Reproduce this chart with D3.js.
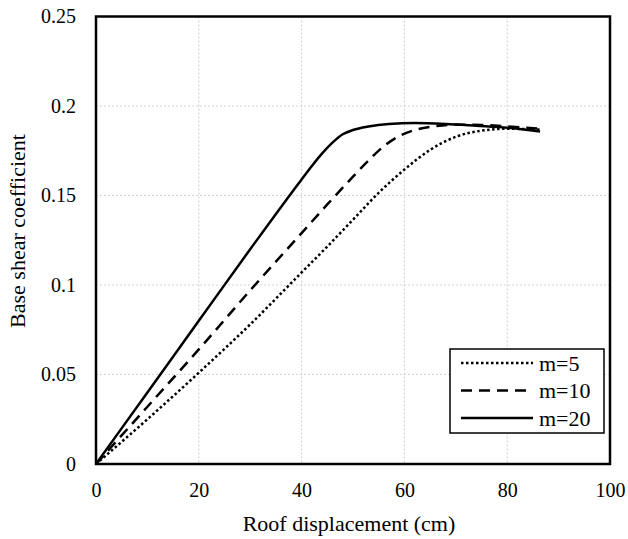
<!DOCTYPE html>
<html>
<head>
<meta charset="utf-8">
<script src="https://cdn.jsdelivr.net/npm/d3@7"></script>
<style>
  body { margin: 0; background: #fff; }
  text { font-family: "Liberation Serif", "Times New Roman", serif; fill: #000; }
</style>
</head>
<body>
<svg id="chart" width="628" height="539"></svg>
<script>
// roof displacement (cm) / base shear coefficient
var xM5  = [0, 10, 20, 30, 40, 45, 50, 55, 60, 65, 70, 75, 80, 86.4];
var yM5  = [0, 0.025, 0.051, 0.078, 0.107, 0.1215, 0.1365, 0.1515, 0.1645, 0.1755, 0.1828, 0.1862, 0.1873, 0.1868];
var xM10 = [0, 10, 20, 30, 40, 45, 50, 53, 56, 59, 62, 66, 70, 75, 80, 86.4];
var yM10 = [0, 0.032, 0.064, 0.097, 0.129, 0.145, 0.1605, 0.1695, 0.1775, 0.1832, 0.1866, 0.1887, 0.1896, 0.1894, 0.1886, 0.1873];
var xM20 = [0, 10, 20, 30, 40, 42, 44, 46, 48, 50, 53, 57, 62, 68, 74, 80, 86.4];
var yM20 = [0, 0.040, 0.080, 0.120, 0.159, 0.1665, 0.1735, 0.1795, 0.1842, 0.1866, 0.1886, 0.1900, 0.1905, 0.1900, 0.1890, 0.1879, 0.1858];

var seriesNames = ["m=5", "m=10", "m=20"];
var xTicks = [0, 20, 40, 60, 80, 100];
var yTicks = [0, 0.05, 0.1, 0.15, 0.2, 0.25];
var yTickLabels = ["0", "0.05", "0.1", "0.15", "0.2", "0.25"];

var svg = d3.select("#chart");
var plotL = 96, plotR = 610, plotT = 16.5, plotB = 464;

var x = d3.scaleLinear().domain([0, 100]).range([plotL, plotR]);
var y = d3.scaleLinear().domain([0, 0.25]).range([plotB, plotT]);

// grid
var grid = svg.append("g").attr("class", "grid");
grid.selectAll("line.v")
    .data(xTicks.slice(1, -1))
    .enter().append("line")
    .attr("x1", function(d) { return x(d); })
    .attr("x2", function(d) { return x(d); })
    .attr("y1", plotT).attr("y2", plotB)
    .attr("stroke", "#d4d4d4").attr("stroke-width", 1.2)
    .attr("stroke-dasharray", "2,2");
grid.selectAll("line.h")
    .data(yTicks.slice(1, -1))
    .enter().append("line")
    .attr("y1", function(d) { return y(d); })
    .attr("y2", function(d) { return y(d); })
    .attr("x1", plotL).attr("x2", plotR)
    .attr("stroke", "#d4d4d4").attr("stroke-width", 1.2)
    .attr("stroke-dasharray", "2,2");

// axes (labels only, frame drawn separately)
var xAxis = d3.axisBottom(x).tickValues(xTicks).tickSize(0).tickPadding(19);
var gx = svg.append("g").attr("transform", "translate(0," + plotB + ")").call(xAxis);
gx.select(".domain").remove();
gx.selectAll("text").style("font-size", "20px").style("font-family", "Liberation Serif");

var yAxis = d3.axisLeft(y).tickValues(yTicks).tickSize(0).tickPadding(20)
    .tickFormat(function(d, i) { return yTickLabels[i]; });
var gy = svg.append("g").attr("transform", "translate(" + plotL + ",0)").call(yAxis);
gy.select(".domain").remove();
gy.selectAll("text").style("font-size", "20px").style("font-family", "Liberation Serif");

// series
var line = d3.line()
    .x(function(d) { return x(d[0]); })
    .y(function(d) { return y(d[1]); })
    .curve(d3.curveMonotoneX);

var styles = [
  { dash: "2.5,2.5" },
  { dash: "11,7" },
  { dash: null }
];
var allData = [d3.zip(xM5, yM5), d3.zip(xM10, yM10), d3.zip(xM20, yM20)];

allData.forEach(function(pts, i) {
  svg.append("path")
    .datum(pts)
    .attr("d", line)
    .attr("fill", "none")
    .attr("stroke", "#000")
    .attr("stroke-width", 2.5)
    .attr("stroke-dasharray", styles[i].dash);
});

// plot frame
svg.append("rect")
    .attr("x", plotL).attr("y", plotT)
    .attr("width", plotR - plotL).attr("height", plotB - plotT)
    .attr("fill", "none").attr("stroke", "#000").attr("stroke-width", 2.5);

// legend
var legend = svg.append("g");
legend.append("rect")
    .attr("x", 450).attr("y", 349).attr("width", 154).attr("height", 84)
    .attr("fill", "#fff").attr("stroke", "#000").attr("stroke-width", 1.5);
seriesNames.forEach(function(name, i) {
  var ly = 363 + i * 27.5;
  legend.append("line")
    .attr("x1", 461).attr("x2", 533).attr("y1", ly).attr("y2", ly)
    .attr("stroke", "#000").attr("stroke-width", 2.5)
    .attr("stroke-dasharray", styles[i].dash);
  legend.append("text")
    .attr("x", 539).attr("y", ly).attr("dy", "0.35em")
    .style("font-size", "22px")
    .text(name);
});

// axis titles
svg.append("text")
    .attr("x", (plotL + plotR) / 2 - 4).attr("y", 531)
    .attr("text-anchor", "middle")
    .style("font-size", "22px")
    .text("Roof displacement (cm)");
svg.append("text")
    .attr("transform", "translate(25,231) rotate(-90)")
    .attr("text-anchor", "middle")
    .style("font-size", "22px")
    .text("Base shear coefficient");
</script>
</body>
</html>
